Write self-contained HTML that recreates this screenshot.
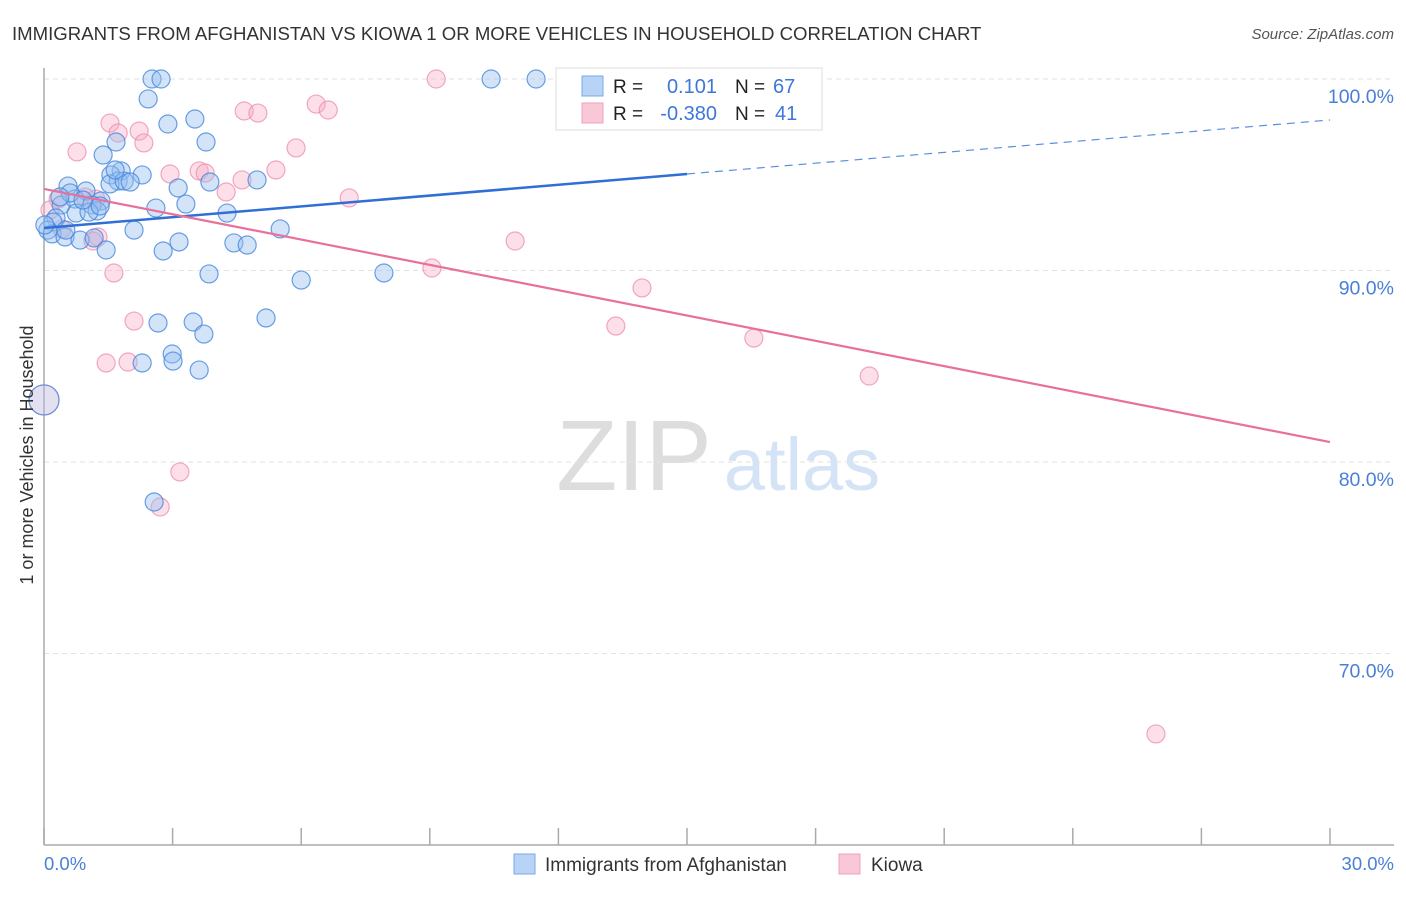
<!DOCTYPE html>
<html><head><meta charset="utf-8"><style>
body{margin:0;background:#fff;font-family:"Liberation Sans",sans-serif;}
svg text{font-family:"Liberation Sans",sans-serif;}
</style></head><body>
<svg width="1406" height="892" xmlns="http://www.w3.org/2000/svg">
<text x="12" y="40" font-size="18.6" fill="#333">IMMIGRANTS FROM AFGHANISTAN VS KIOWA 1 OR MORE VEHICLES IN HOUSEHOLD CORRELATION CHART</text>
<text x="1394" y="39" font-size="15" fill="#555" font-style="italic" text-anchor="end">Source: ZipAtlas.com</text>
<text x="634" y="490" font-size="100" fill="#ddd" font-family="Liberation Serif" text-anchor="middle">ZIP</text>
<text x="802" y="490" font-size="74" fill="#d4e3f5" text-anchor="middle">atlas</text>
<g id="grid"></g>
<g id="axes"></g>
<g id="marks"></g>
<g id="lines"></g>
<text x="33" y="455" font-size="18" fill="#333" text-anchor="middle" transform="rotate(-90 33 455)">1 or more Vehicles in Household</text>
<text x="44" y="870" font-size="18.5" fill="#4a7fd6">0.0%</text>
<text x="1394" y="870" font-size="18.5" fill="#4a7fd6" text-anchor="end">30.0%</text>
<g>
<rect x="556" y="68" width="266" height="62" fill="#fff" stroke="#ddd"/>
<rect x="582" y="76" width="21" height="20" fill="#b8d3f5" stroke="#7aaae8"/>
<rect x="582" y="103" width="21" height="20" fill="#f9c8d7" stroke="#f0a0bc"/>
<text x="613" y="93" font-size="19" fill="#222">R =</text>
<text x="717" y="93" font-size="20" fill="#3c78d8" text-anchor="end">0.101</text>
<text x="735" y="93" font-size="19" fill="#222">N =</text>
<text x="773" y="93" font-size="20" fill="#3c78d8">67</text>
<text x="613" y="120" font-size="19" fill="#222">R =</text>
<text x="717" y="120" font-size="20" fill="#3c78d8" text-anchor="end">-0.380</text>
<text x="735" y="120" font-size="19" fill="#222">N =</text>
<text x="775" y="120" font-size="20" fill="#3c78d8">41</text>
</g>
<g>
<rect x="514" y="854" width="21" height="20" fill="#b8d3f5" stroke="#7aaae8"/>
<text x="545" y="871" font-size="19" fill="#333">Immigrants from Afghanistan</text>
<rect x="839" y="854" width="21" height="20" fill="#f9c8d7" stroke="#f0a0bc"/>
<text x="871" y="871" font-size="19" fill="#333">Kiowa</text>
</g>
</svg>
<script>
const yTicks=[100,90,80,70];
const yTickLabels=["100.0%","90.0%","80.0%","70.0%"];
const xTicks=[0,3,6,9,12,15,18,21,24,27,30];
const blueX=[2.52,2.73,2.43,2.89,3.52,3.78,1.68,1.38,1.80,2.29,1.56,1.73,1.54,1.87,3.13,3.87,4.97,0.56,0.98,0.40,0.72,1.33,1.12,1.24,0.75,1.05,0.28,0.21,0.09,0.19,0.49,0.84,1.17,1.45,2.10,2.61,3.31,4.27,5.51,3.15,4.43,4.74,2.78,3.85,6.00,7.93,5.18,2.66,3.48,3.73,2.99,3.01,2.29,3.62,2.57,10.43,11.48,0.61,0.91,0.37,1.66,2.01,0.51,0.02,1.31,0.0];
const blueY=[100,100,98.96,97.65,97.91,96.71,96.71,96.03,95.20,94.99,94.99,94.67,94.52,94.67,94.31,94.62,94.73,94.41,94.15,93.42,93.73,93.63,93.42,93.11,93.00,93.05,92.74,92.53,92.11,91.91,91.75,91.59,91.70,91.07,92.11,93.26,93.47,93.00,92.17,91.49,91.44,91.33,91.02,89.82,89.50,89.87,87.52,87.26,87.31,86.68,85.64,85.27,85.17,84.80,77.91,100,100,94.05,93.68,93.84,95.25,94.62,92.11,92.38,93.37,83.24];
const pinkX=[9.15,6.35,6.63,4.67,4.99,1.54,2.22,1.73,2.33,0.77,5.88,5.41,2.94,3.62,3.76,4.62,4.25,7.12,0.33,0.96,1.21,0.42,1.26,1.14,9.05,10.99,1.63,13.95,13.34,16.56,19.25,2.10,1.45,1.96,3.17,2.71,25.94,0.14,16.24,0.0];
const pinkY=[100,98.69,98.38,98.33,98.22,97.70,97.28,97.18,96.66,96.19,96.40,95.25,95.04,95.20,95.09,94.73,94.10,93.79,93.73,93.84,93.73,92.17,91.75,91.54,90.13,91.54,89.87,89.09,87.10,86.47,84.49,87.36,85.17,85.22,79.48,77.65,65.80,93.16,100,83.24];
const blueTrend=[92.22,97.86];
const pinkTrend=[94.26,81.04];
const NS="http://www.w3.org/2000/svg";
const sx=v=>44+v/30*1286;
const sy=v=>79+(100-v)/40*766;
function mk(tag,attrs,parent){const e=document.createElementNS(NS,tag);for(const k in attrs)e.setAttribute(k,attrs[k]);document.getElementById(parent).appendChild(e);return e;}
yTicks.forEach((t,i)=>{
 const l=mk('line',{x1:44,x2:1394,y1:sy(t),y2:sy(t),stroke:'#e2e2e2','stroke-dasharray':'5,4'},'grid');
 
 
 const tx=mk('text',{x:1394,y:sy(t)+24,'font-size':19.5,fill:'#4a7fd6','text-anchor':'end'},'grid');
 tx.textContent=yTickLabels[i];
 
 
});
const ya=mk('line',{x1:44,x2:44,y1:68,y2:845,stroke:'#aaa','stroke-width':1.5},'axes');


const xa=mk('line',{x1:44,x2:1394,y1:845,y2:845,stroke:'#aaa','stroke-width':1.5},'axes');


xTicks.forEach(t=>{
 const l=mk('line',{x1:sx(t),x2:sx(t),y1:828,y2:845,stroke:'#aaa','stroke-width':1.5},'axes');
 
 
});
function pts(X,Y,fill,stroke,name){
 X.forEach((x,i)=>{
  const big=(x===0&&Y[i]===83.24);
  const c=mk('circle',{cx:sx(x),cy:sy(Y[i]),r:big?15:9,fill:fill,stroke:stroke,'stroke-width':1.2,'fill-opacity':big?0.6:1},'marks');
  
  
 });
}
pts(pinkX,pinkY,'rgba(246,170,196,0.38)','rgba(236,140,172,0.75)','kiowa-point');
pts(blueX,blueY,'rgba(150,190,240,0.42)','rgba(70,135,220,0.8)','afghanistan-point');
const b1=mk('line',{x1:sx(0),y1:sy(blueTrend[0]),x2:sx(15),y2:sy(blueTrend[0]+(blueTrend[1]-blueTrend[0])/2),stroke:'#2f6fd6','stroke-width':2.5},'lines');


const b2=mk('line',{x1:sx(15),y1:sy(blueTrend[0]+(blueTrend[1]-blueTrend[0])/2),x2:sx(30),y2:sy(blueTrend[1]),stroke:'#5b8fe0','stroke-width':1.2,'stroke-dasharray':'8,6'},'lines');


const p1=mk('line',{x1:sx(0),y1:sy(pinkTrend[0]),x2:sx(30),y2:sy(pinkTrend[1]),stroke:'#e8709a','stroke-width':2.2},'lines');


</script>
</body></html>
